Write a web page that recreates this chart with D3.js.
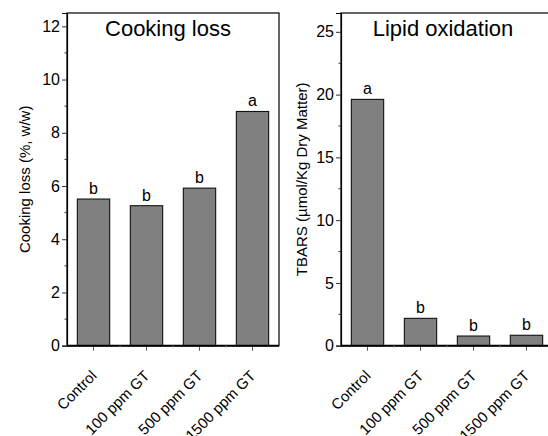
<!DOCTYPE html>
<html>
<head>
<meta charset="utf-8">
<script src="https://cdn.jsdelivr.net/npm/d3@7"></script>
<style>
  body { margin: 0; background: #fff; }
  svg { display: block; font-family: "Liberation Sans", Arial, sans-serif; }
</style>
</head>
<body>
<div id="chart"></div>
<script>
let width = 548;
let height = 436;

// data
let groups = ["Control", "100 ppm GT", "500 ppm GT", "1500 ppm GT"];
let cookingLoss = [5.51, 5.26, 5.92, 8.80];
let cookingLetters = ["b", "b", "b", "a"];
let tbars = [19.62, 2.18, 0.77, 0.83];
let tbarsLetters = ["a", "b", "b", "b"];
let cookingTicks = [0, 2, 4, 6, 8, 10, 12];
let tbarsTicks = [0, 5, 10, 15, 20, 25];

let svg = d3.select("#chart")
  .append("svg")
    .attr("width", width)
    .attr("height", height);

function drawPanel(opts){
    let g = svg.append("g");
    let top = 13;
    let bottom = 345.7;

    let xScale = d3.scaleBand().domain(groups).range([opts.left, opts.right]).padding(0);
    let yScale = d3.scaleLinear().domain([0, opts.ymax]).range([bottom, top]);

    // frame
    g.append("rect")
      .attr("x", opts.left)
      .attr("y", top)
      .attr("width", opts.right - opts.left)
      .attr("height", bottom - top)
      .attr("fill", "none")
      .attr("stroke", "#000")
      .attr("stroke-width", 1.2);

    // bars
    let bw = xScale.bandwidth() * 0.61;
    g.selectAll(".bar").data(opts.values).enter()
      .append("rect")
        .attr("class", "bar")
        .attr("x", (d, i) => xScale(groups[i]) + (xScale.bandwidth() - bw) / 2)
        .attr("y", d => yScale(d))
        .attr("width", bw)
        .attr("height", d => bottom - yScale(d))
        .attr("fill", "#808080")
        .attr("stroke", "#111")
        .attr("stroke-width", 1.1);

    // significance letters
    g.selectAll(".letter").data(opts.values).enter()
      .append("text")
        .attr("x", (d, i) => xScale(groups[i]) + xScale.bandwidth() / 2)
        .attr("y", d => yScale(d) - 5)
        .attr("text-anchor", "middle")
        .style("font-size", "16px")
        .text((d, i) => opts.letters[i]);

    // y axis
    let yAxis = d3.axisLeft(yScale).tickValues(opts.ticks).tickSize(5).tickPadding(2);
    let yAxisGroup = g.append("g")
      .attr("transform", "translate(" + opts.left + ",0)")
      .call(yAxis);
    yAxisGroup.attr("font-size", null).attr("font-family", null);
    yAxisGroup.select(".domain").attr("stroke", "#000").attr("stroke-width", 1.2);
    yAxisGroup.selectAll("text").style("font-size", "16px").attr("fill", "#000");
    yAxisGroup.selectAll("line").attr("stroke", "#333");

    // minor y ticks
    let minor = [];
    for (let k = 0; k < opts.ticks.length; k++) {
        let m = opts.ticks[k] + opts.step / 2;
        if (m < opts.ymax) minor.push(m);
    }
    g.selectAll(".yminor").data(minor).enter()
      .append("line")
        .attr("x1", opts.left - 2.5)
        .attr("x2", opts.left)
        .attr("y1", d => yScale(d))
        .attr("y2", d => yScale(d))
        .attr("stroke", "#333");

    // x axis
    let xAxis = d3.axisBottom(xScale).tickSize(5).tickFormat("");
    let xAxisGroup = g.append("g")
      .attr("transform", "translate(0," + bottom + ")")
      .call(xAxis);
    xAxisGroup.select(".domain").remove();
    xAxisGroup.selectAll("line").attr("stroke", "#555");
    g.append("line")
      .attr("x1", opts.left)
      .attr("x2", opts.right)
      .attr("y1", bottom)
      .attr("y2", bottom)
      .attr("stroke", "#000")
      .attr("stroke-width", 2);

    // minor x ticks at band edges
    g.selectAll(".xminor").data(groups.slice(1)).enter()
      .append("line")
        .attr("x1", d => xScale(d))
        .attr("x2", d => xScale(d))
        .attr("y1", bottom)
        .attr("y2", bottom + 2)
        .attr("stroke", "#999");

    // rotated category labels
    g.selectAll(".xlabel").data(groups).enter()
      .append("text")
        .attr("transform", d => "translate(" + (xScale(d) + xScale.bandwidth() / 2 + 4) + "," + (bottom + 31) + ") rotate(-45)")
        .attr("text-anchor", "end")
        .style("font-size", "15px")
        .text(d => d);

    // y axis title
    g.append("text")
      .attr("transform", "translate(" + opts.titleX + "," + ((top + bottom) / 2) + ") rotate(-90)")
      .attr("text-anchor", "middle")
      .style("font-size", "15px")
      .text(opts.yTitle);

    // panel title
    g.append("text")
      .attr("x", opts.headX)
      .attr("y", 36)
      .attr("text-anchor", "middle")
      .style("font-size", "22px")
      .text(opts.head);
}

drawPanel({
    left: 67, right: 279, ymax: 12.5, step: 2,
    values: cookingLoss, letters: cookingLetters, ticks: cookingTicks,
    yTitle: "Cooking loss (%, w/w)", titleX: 30,
    head: "Cooking loss", headX: 168
});

drawPanel({
    left: 341, right: 553, ymax: 26.5, step: 5,
    values: tbars, letters: tbarsLetters, ticks: tbarsTicks,
    yTitle: "TBARS (µmol/Kg Dry Matter)", titleX: 307,
    head: "Lipid oxidation", headX: 443
});
</script>
</body>
</html>
